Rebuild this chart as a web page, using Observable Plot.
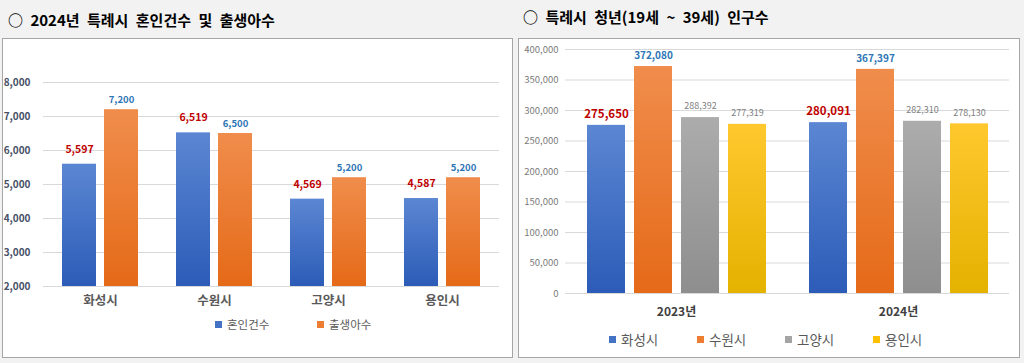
<!DOCTYPE html>
<html><head><meta charset="utf-8">
<script src="https://cdn.jsdelivr.net/npm/d3@7"></script>
<script src="https://cdn.jsdelivr.net/npm/@observablehq/plot@0.6"></script>
<style>
body{margin:0;background:#f2f2f2;font-family:"Noto Sans CJK KR",sans-serif;}
#page{position:relative;width:1024px;height:363px;overflow:hidden;background:#f2f2f2;}
.title{position:absolute;font-weight:bold;font-size:15px;color:#000;white-space:nowrap;line-height:1;word-spacing:4px;}
.panel{position:absolute;background:#fff;border:1px solid #a6a6a6;box-sizing:border-box;}
.chart{position:absolute;}
.legend{position:absolute;display:flex;color:#595959;white-space:nowrap;line-height:1;}
.legend .item{display:flex;align-items:center;}
.legend .sw{display:inline-block;width:7px;height:7px;margin-right:5px;}
</style></head>
<body>
<svg width="0" height="0" style="position:absolute">
  <defs>
    <linearGradient id="gBlue" x1="0" y1="0" x2="0" y2="1"><stop offset="0" stop-color="#5b86d2"/><stop offset="1" stop-color="#2c5cb8"/></linearGradient>
    <linearGradient id="gOrange" x1="0" y1="0" x2="0" y2="1"><stop offset="0" stop-color="#f08d4c"/><stop offset="1" stop-color="#e56a18"/></linearGradient>
    <linearGradient id="gGray" x1="0" y1="0" x2="0" y2="1"><stop offset="0" stop-color="#acacac"/><stop offset="1" stop-color="#8e8e8e"/></linearGradient>
    <linearGradient id="gYellow" x1="0" y1="0" x2="0" y2="1"><stop offset="0" stop-color="#ffc82e"/><stop offset="1" stop-color="#e4b200"/></linearGradient>
  </defs>
</svg>
<div id="page">
  <div class="title" style="left:8px;top:12px;">○ 2024년 특례시 혼인건수 및 출생아수</div>
  <div class="title" style="left:523px;top:9px;">○ 특례시 청년(19세 ~ 39세) 인구수</div>
  <div class="panel" style="left:2px;top:38px;width:511px;height:320px;"></div>
  <div class="panel" style="left:518px;top:38px;width:502px;height:320px;"></div>
  <div class="chart" id="left" style="left:3px;top:40px;"></div>
  <div class="chart" id="right" style="left:520px;top:40px;"></div>
  <div class="legend" id="leftLegend" style="left:215px;top:319px;font-size:11.5px;"></div>
  <div class="legend" id="rightLegend" style="left:609px;top:333px;font-size:13.5px;"></div>
</div>
<script>
// ---- Left chart data ----
const leftCities = ["화성시", "수원시", "고양시", "용인시"];
const leftSeries = ["혼인건수", "출생아수"];
const marriages = [5597, 6519, 4569, 4587];
const births = [7200, 6500, 5200, 5200];
const leftTicks = [2000, 3000, 4000, 5000, 6000, 7000, 8000];

// ---- Right chart data ----
const rightYears = ["2023년", "2024년"];
const rightCities = ["화성시", "수원시", "고양시", "용인시"];
const youth2023 = [275650, 372080, 288392, 277319];
const youth2024 = [280091, 367397, 282310, 278130];
const rightTicks = [0, 50000, 100000, 150000, 200000, 250000, 300000, 350000, 400000];

// ---- styles ----
const leftFills = ["url(#gBlue)", "url(#gOrange)"];
const leftSwatches = ["#4472c4", "#ed7d31"];
const rightFills = ["url(#gBlue)", "url(#gOrange)", "url(#gGray)", "url(#gYellow)"];
const rightSwatches = ["#4472c4", "#ed7d31", "#a5a5a5", "#ffc000"];
const FONT = "Noto Sans CJK KR";
const fmt = d3.format(",");

const leftData = leftCities.flatMap((c, i) => [
  {city: c, series: leftSeries[0], value: marriages[i]},
  {city: c, series: leftSeries[1], value: births[i]}
]);

const leftPlot = Plot.plot({
  width: 506, height: 275,
  marginLeft: 40, marginRight: 10, marginTop: 42, marginBottom: 29,
  style: {fontFamily: FONT, background: "transparent", overflow: "visible"},
  fx: {domain: leftCities, padding: 0, label: null},
  x: {domain: leftSeries, axis: null, paddingInner: 0.186, paddingOuter: 0.42},
  y: {domain: [leftTicks[0], leftTicks[leftTicks.length - 1]], label: null},
  color: {domain: leftSeries, range: leftFills},
  marks: [
    Plot.gridY({ticks: leftTicks, stroke: "#d9d9d9", strokeOpacity: 1}),
    Plot.axisY({ticks: leftTicks, tickFormat: fmt, tickSize: 0, tickPadding: 13, label: null,
      fontSize: 10, fontWeight: "bold", fill: "#475066"}),
    Plot.axisFx({anchor: "bottom", tickSize: 0, tickPadding: 10, label: null, fontSize: 12.5, fontWeight: "bold", fill: "#595959"}),
    Plot.barY(leftData, {fx: "city", x: "series", y1: leftTicks[0], y2: "value", fill: "series"}),
    Plot.text(leftData.filter(d => d.series === leftSeries[0]), {fx: "city", x: "series", y: "value",
      text: d => fmt(d.value), dy: -15, fill: "#c00000", fontWeight: "bold", fontSize: 10.5}),
    Plot.text(leftData.filter(d => d.series === leftSeries[1]), {fx: "city", x: "series", y: "value",
      text: d => fmt(d.value), dy: -10, fill: "#2e75b6", fontWeight: "bold", fontSize: 9.5})
  ]
});
document.getElementById("left").appendChild(leftPlot);

const rightData = rightYears.flatMap((yr, j) => {
  const vals = j === 0 ? youth2023 : youth2024;
  return rightCities.map((c, i) => ({year: yr, city: c, value: vals[i]}));
});

const labelStyle = {
  [rightCities[0]]: {fill: "#c00000", fontWeight: "bold", fontSize: 11.5},
  [rightCities[1]]: {fill: "#2e75b6", fontWeight: "bold", fontSize: 10},
  [rightCities[2]]: {fill: "#7f7f7f", fontWeight: "normal", fontSize: 9},
  [rightCities[3]]: {fill: "#7f7f7f", fontWeight: "normal", fontSize: 9}
};

const rightPlot = Plot.plot({
  width: 498, height: 285,
  marginLeft: 45, marginRight: 9, marginTop: 9, marginBottom: 32,
  style: {fontFamily: FONT, background: "transparent", overflow: "visible"},
  fx: {domain: rightYears, padding: 0, label: null},
  x: {domain: rightCities, axis: null, paddingInner: 0.2, paddingOuter: 0.42},
  y: {domain: [rightTicks[0], rightTicks[rightTicks.length - 1]], label: null},
  color: {domain: rightCities, range: rightFills},
  marks: [
    Plot.gridY({ticks: rightTicks, stroke: "#d9d9d9", strokeOpacity: 1}),
    Plot.axisY({ticks: rightTicks, tickFormat: fmt, tickSize: 0, tickPadding: 7, label: null,
      fontSize: 9.5, fill: "#7a7a7a"}),
    Plot.axisFx({anchor: "bottom", tickSize: 0, tickPadding: 14, label: null, fontSize: 12, fontWeight: "bold", fill: "#404040"}),
    Plot.barY(rightData, {fx: "year", x: "city", y: "value", fill: "city"}),
    ...rightCities.map(c => Plot.text(rightData.filter(d => d.city === c), {
      fx: "year", x: "city", y: "value", text: d => fmt(d.value), dy: -11, ...labelStyle[c]
    }))
  ]
});
document.getElementById("right").appendChild(rightPlot);

// ---- legends (HTML) ----
function buildLegend(el, names, colors, itemWidth) {
  names.forEach((n, i) => {
    const item = document.createElement("div");
    item.className = "item";
    item.style.width = itemWidth + "px";
    const sw = document.createElement("span");
    sw.className = "sw";
    sw.style.background = colors[i];
    const t = document.createElement("span");
    t.textContent = n;
    item.appendChild(sw);
    item.appendChild(t);
    el.appendChild(item);
  });
}
buildLegend(document.getElementById("leftLegend"), leftSeries, leftSwatches, 102);
buildLegend(document.getElementById("rightLegend"), rightCities, rightSwatches, 88);
</script>
</body></html>
